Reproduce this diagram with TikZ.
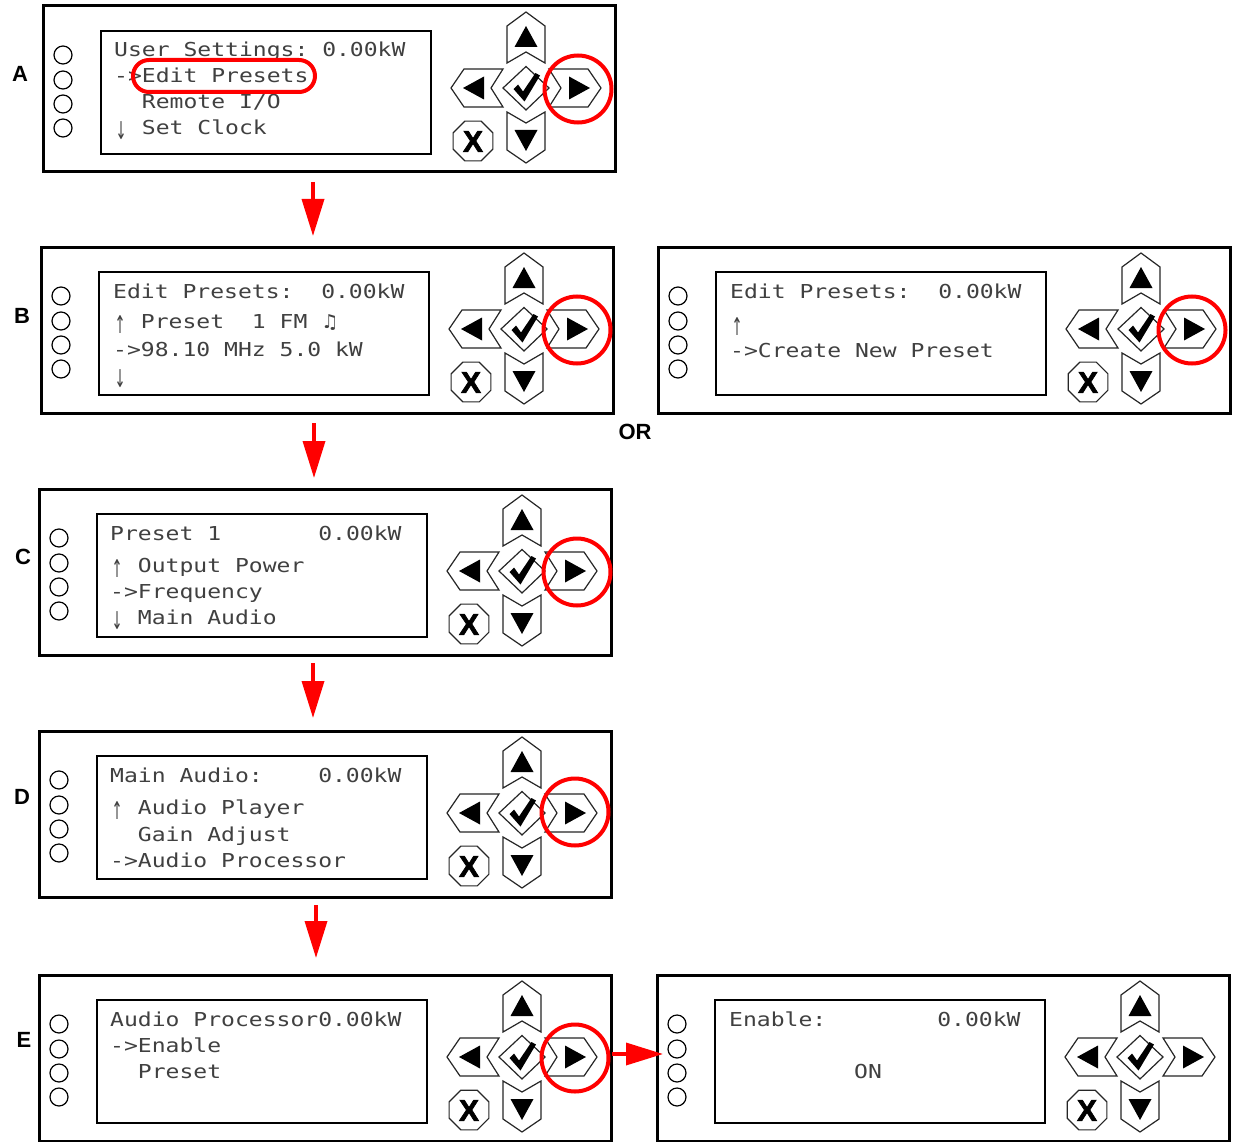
\documentclass[tikz,border=0pt]{standalone}
\usepackage{fontspec}
\usepackage{graphicx}
\usetikzlibrary{arrows.meta,shapes.geometric,calc}
\newfontfamily\lcdfont[FakeStretch=1.2]{DejaVu Sans Mono}
\newfontfamily\symfont{DejaVu Sans}
\newfontfamily\labfont{Liberation Sans}
\newfontfamily\heavyfont[FakeBold=2.2]{Liberation Sans}

\newcommand\uparr{\makebox[13.87pt][c]{\raisebox{-5pt}{\resizebox*{11pt}{18pt}{\symfont ↑}}}}
\newcommand\dnarr{\makebox[13.87pt][c]{\raisebox{-5pt}{\resizebox*{11pt}{18pt}{\symfont ↓}}}}

\tikzset{
 panel/.style={draw=black, line width=3pt, fill=white, minimum width=572pt, minimum height=166pt, anchor=north west, inner sep=0pt, outer sep=0pt},
 screen/.style={draw=black, line width=2.5pt},
 led/.style={draw=black, line width=1.2pt, fill=white},
 btn/.style={draw=black!85, line width=1.2pt, fill=white, line join=miter},
 lcd/.style={anchor=base west, inner sep=0pt, font={\lcdfont\fontsize{19.2}{22}\selectfont}, text=black!75},
 lbl/.style={font={\labfont\bfseries\fontsize{22}{26}\selectfont}, inner sep=0pt},
 xkey/.style={font={\heavyfont\bfseries\fontsize{30}{30}\selectfont}, inner sep=0pt},
 ring/.style={draw=red, line width=4pt, circle, minimum size=67pt, inner sep=0pt},
 redarr/.style={draw=red, line width=3.5pt, -{Triangle[width=22pt,length=37pt]}},
}

\newcommand\devpanel[3]{%
 \node[panel] (#1) at (#2,#3) {};
 \begin{scope}[shift={(#2,#3)}]
  \foreach \yy in {49,74,98,122} \draw[led] (20,\yy) circle (9pt);
  \draw[screen] (58,25) rectangle (388,148);
  \begin{scope}[shift={(483,82)}]
   % up
   \draw[btn] (0,-76) -- (19,-62) -- (19,-25) -- (0,-36) -- (-19,-25) -- (-19,-62) -- cycle;
   \fill (0,-62) -- (11.5,-41) -- (-11.5,-41) -- cycle;
   % down
   \draw[btn] (0,75) -- (19,62) -- (19,24) -- (0,35) -- (-19,24) -- (-19,62) -- cycle;
   \fill (0,63) -- (11.5,42) -- (-11.5,42) -- cycle;
   % left
   \draw[btn] (-75,0) -- (-62,-19) -- (-23,-19) -- (-35,0) -- (-23,19) -- (-62,19) -- cycle;
   \fill (-63,0) -- (-42,-11.5) -- (-42,11.5) -- cycle;
   % right
   \draw[btn] (75,0) -- (62,-19) -- (23,-19) -- (35,0) -- (23,19) -- (62,19) -- cycle;
   \fill (64,0) -- (43,-11.5) -- (43,11.5) -- cycle;
   % ok diamond
   \draw[btn] (-23,0) -- (0,-21.5) -- (23,0) -- (0,22) -- cycle;
   \fill (-12.5,1) -- (-8,-3.5) -- (-3,3.5) -- (9.5,-15) -- (14,-12.5) -- (-1.5,13.5) -- cycle;
   % cancel
   \node[btn, regular polygon, regular polygon sides=8, minimum size=43pt, inner sep=0pt] (#1oct) at (-53,53) {};
   \node[xkey] (#1x) at (-53,53.5) {X};
  \end{scope}
 \end{scope}
}

\begin{document}
\begin{tikzpicture}[x=1pt,y=-1pt]
\useasboundingbox[fill=white] (0,0) rectangle (1236,1142);

\devpanel{A}{43}{6}
\devpanel{B}{41}{247}
\devpanel{Bo}{658}{247}
\devpanel{C}{39}{489}
\devpanel{D}{39}{731}
\devpanel{E}{39}{975}
\devpanel{Eo}{657}{975}

% labels
\node[lbl] (labA) at (20,74) {A};
\node[lbl] (labB) at (22,316) {B};
\node[lbl] (labC) at (23,557) {C};
\node[lbl] (labD) at (22,797) {D};
\node[lbl] (labE) at (24,1040) {E};
\node[lbl] (labOR) at (635,432) {OR};

% screen texts
\node[lcd] (a1) at (114,57) {User~Settings:~0.00kW};
\node[lcd] (a2) at (114,83) {->Edit~Presets};
\node[lcd] (a3) at (114,109) {~~Remote~I/O};
\node[lcd] (a4) at (114,135) {\dnarr~Set~Clock};

\node[lcd] (b1) at (113,298) {Edit~Presets:~~0.00kW};
\node[lcd] (b2) at (113,328) {\uparr~Preset~~1~FM~{\symfont ♫}};
\node[lcd] (b3) at (113,356) {->98.10~MHz~5.0~kW};
\node[lcd] (b4) at (113,382) {\dnarr};

\node[lcd] (o1) at (730,298) {Edit~Presets:~~0.00kW};
\node[lcd] (o2) at (730,330) {\uparr};
\node[lcd] (o3) at (730,357) {->Create~New~Preset};

\node[lcd] (c1) at (110,540) {Preset~1~~~~~~~0.00kW};
\node[lcd] (c2) at (110,572) {\uparr~Output~Power};
\node[lcd] (c3) at (110,598) {->Frequency};
\node[lcd] (c4) at (110,624) {\dnarr~Main~Audio};

\node[lcd] (d1) at (110,782) {Main~Audio:~~~~0.00kW};
\node[lcd] (d2) at (110,814) {\uparr~Audio~Player};
\node[lcd] (d3) at (110,841) {~~Gain~Adjust};
\node[lcd] (d4) at (110,867) {->Audio~Processor};

\node[lcd] (e1) at (110,1026) {Audio~Processor0.00kW};
\node[lcd] (e2) at (110,1052) {->Enable};
\node[lcd] (e3) at (110,1078) {~~Preset};

\node[lcd] (f1) at (729,1026) {Enable:~~~~~~~~0.00kW};
\node[lcd] (f2) at (854,1078) {ON};

% red highlights
\draw[red, line width=4pt, rounded corners=16pt] (133,60) rectangle (315,92);
\node[ring] (ringA) at (578,89) {};
\node[ring] (ringB) at (577,330) {};
\node[ring] (ringBo) at (1192,330) {};
\node[ring] (ringC) at (577,572) {};
\node[ring] (ringD) at (575,812) {};
\node[ring] (ringE) at (575,1058) {};

% flow arrows
\draw[redarr, shorten <=10pt, shorten >=11pt] ([xshift=-16pt]A.south) -- ([xshift=-16pt]A.south |- B.north);
\draw[redarr, shorten <=10pt, shorten >=11pt] ([xshift=-13pt]B.south) -- ([xshift=-13pt]B.south |- C.north);
\draw[redarr, shorten <=8pt, shorten >=13pt] ([xshift=-12pt]C.south) -- ([xshift=-12pt]C.south |- D.north);
\draw[redarr, shorten <=8pt, shorten >=17pt] ([xshift=-9pt]D.south) -- ([xshift=-9pt]D.south |- E.north);
\draw[redarr, shorten <=1pt, shorten >=-6pt] ([yshift=4pt]E.east) -- ([yshift=4pt]E.east -| Eo.west);
\end{tikzpicture}
\end{document}
